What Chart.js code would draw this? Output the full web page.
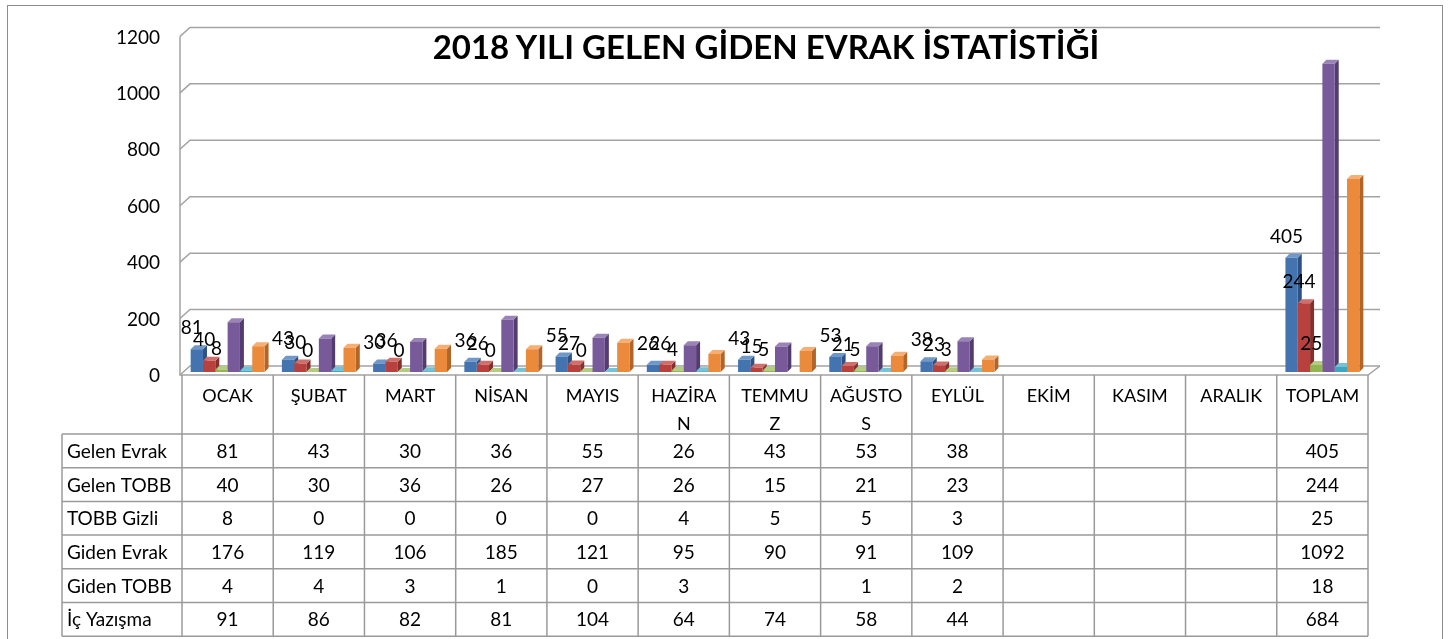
<!DOCTYPE html>
<html>
<head>
<meta charset="utf-8">
<script src="https://cdn.jsdelivr.net/npm/chart.js@4.4.0/dist/chart.umd.min.js"></script>
<style>
    body { margin: 0; background: #fff; }
    #wrap { position: relative; width: 1448px; height: 639px; overflow: hidden; }
    #frame { position: absolute; left: 7px; top: 5px; width: 1434px; height: 700px; border: 1px solid #8c8c8c; }
    #title { position: absolute; left: 0; top: 26px; width: 1532px; text-align: center;
             font: bold 33px Lato, sans-serif; color: #000; line-height: 40px; }
    canvas { position: absolute; left: 0; top: 0; }
</style>
</head>
<body>
<div id="wrap">
    <div id="frame"></div>
    <canvas id="evrakChart" width="1448" height="639"></canvas>
    <div id="title">2018 YILI GELEN GİDEN EVRAK İSTATİSTİĞİ</div>
</div>
<script>
// aylar ve seriler
const months = ['OCAK', 'ŞUBAT', 'MART', 'NİSAN', 'MAYIS', ['HAZİRA', 'N'], ['TEMMU', 'Z'], ['AĞUSTO', 'S'], 'EYLÜL', 'EKİM', 'KASIM', 'ARALIK', 'TOPLAM'];
const seriesNames = ['Gelen Evrak', 'Gelen TOBB', 'TOBB Gizli', 'Giden Evrak', 'Giden TOBB', 'İç Yazışma'];
const gelenEvrak = [81, 43, 30, 36, 55, 26, 43, 53, 38, null, null, null, 405];
const gelenTobb = [40, 30, 36, 26, 27, 26, 15, 21, 23, null, null, null, 244];
const tobbGizli = [8, 0, 0, 0, 0, 4, 5, 5, 3, null, null, null, 25];
const gidenEvrak = [176, 119, 106, 185, 121, 95, 90, 91, 109, null, null, null, 1092];
const gidenTobb = [4, 4, 3, 1, 0, 3, null, 1, 2, null, null, null, 18];
const icYazisma = [91, 86, 82, 81, 104, 64, 74, 58, 44, null, null, null, 684];
const yMax = 1200;
const yStep = 200;

const seriesData = [gelenEvrak, gelenTobb, tobbGizli, gidenEvrak, gidenTobb, icYazisma];
const frontColors = ['#4474B0', '#B8413E', '#93B551', '#785A9A', '#40A5C0', '#EC8A3C'];
const sideColors = ['#2D5283', '#85302D', '#6A8639', '#523D6E', '#2B7A8F', '#B2652A'];
const topColors = ['#6F97C8', '#D06E6B', '#B3CC82', '#9A83B6', '#74C2D6', '#F6AE72'];
const labelSeries = 3; // ilk üç seride değer etiketi var

const FONT = 'Lato';
const gridColor = '#a3a3a3';

// 3D görünüm: arka duvar çizgileri, zemin, çubuk yan yüzleri
const threeD = {
    id: 'threeD',
    beforeDatasetsDraw(chart) {
        const ctx = chart.ctx;
        const { left, right, bottom } = chart.chartArea;
        const y = chart.scales.y;
        ctx.save();
        ctx.strokeStyle = gridColor;
        ctx.lineWidth = 1.5;
        y.ticks.forEach(t => {
            const py = y.getPixelForValue(t.value);
            ctx.beginPath();
            ctx.moveTo(left - 2, py + 3);
            ctx.lineTo(left + 8, py - 6);
            ctx.lineTo(right + 12, py - 6);
            ctx.stroke();
        });
        ctx.beginPath();
        ctx.moveTo(left - 2, y.getPixelForValue(yMax) + 3);
        ctx.lineTo(left - 2, bottom + 3);
        ctx.lineTo(right, bottom + 3);
        ctx.lineTo(right + 12, bottom - 6);
        ctx.stroke();

        chart.data.datasets.forEach((ds, i) => {
            chart.getDatasetMeta(i).data.forEach((bar, j) => {
                if (ds.data[j] == null) return;
                const p = bar.getProps(['x', 'y', 'base', 'width'], true);
                const l = p.x - p.width / 2, r = p.x + p.width / 2, d = 4;
                ctx.fillStyle = sideColors[i];
                ctx.beginPath();
                ctx.moveTo(r, p.y);
                ctx.lineTo(r + d, p.y - d);
                ctx.lineTo(r + d, p.base - d);
                ctx.lineTo(r, p.base);
                ctx.closePath();
                ctx.fill();
                ctx.fillStyle = topColors[i];
                ctx.beginPath();
                ctx.moveTo(l, p.y);
                ctx.lineTo(l + d, p.y - d);
                ctx.lineTo(r + d, p.y - d);
                ctx.lineTo(r, p.y);
                ctx.closePath();
                ctx.fill();
            });
        });
        ctx.restore();
    },
    afterDatasetsDraw(chart) {
        const ctx = chart.ctx;
        ctx.save();
        ctx.fillStyle = '#000';
        ctx.font = '19px ' + FONT;
        ctx.textAlign = 'center';
        ctx.textBaseline = 'middle';
        for (let i = 0; i < labelSeries; i++) {
            chart.getDatasetMeta(i).data.forEach((bar, j) => {
                const v = seriesData[i][j];
                if (v == null) return;
                ctx.fillText(String(v), bar.x - 5, bar.y - 21);
            });
        }
        ctx.restore();
    }
};

// grafiğin altındaki veri tablosu
const dataTable = {
    id: 'dataTable',
    afterDraw(chart) {
        const ctx = chart.ctx;
        const x = chart.scales.x;
        const { left, right, bottom } = chart.chartArea;
        const colW = (right - left) / months.length;
        const headTop = bottom + 3;
        const headBottom = bottom + 62;
        const rowH = 33.7;
        const labelLeft = 62;
        const tableBottom = headBottom + rowH * seriesNames.length;

        ctx.save();
        ctx.strokeStyle = '#9a9a9a';
        ctx.lineWidth = 1.5;
        ctx.beginPath();
        for (let c = 0; c <= months.length; c++) {
            const cx = left + c * colW;
            ctx.moveTo(cx, headTop);
            ctx.lineTo(cx, tableBottom);
        }
        ctx.moveTo(labelLeft, headBottom);
        ctx.lineTo(labelLeft, tableBottom);
        for (let r = 0; r <= seriesNames.length; r++) {
            const ry = headBottom + r * rowH;
            ctx.moveTo(labelLeft, ry);
            ctx.lineTo(right, ry);
        }
        ctx.stroke();

        ctx.fillStyle = '#000';
        ctx.font = '19px ' + FONT;
        ctx.textBaseline = 'middle';
        seriesNames.forEach((name, r) => {
            const cy = headBottom + (r + 0.5) * rowH + 1;
            ctx.textAlign = 'left';
            ctx.fillText(name, labelLeft + 5, cy);
            ctx.textAlign = 'center';
            seriesData[r].forEach((v, j) => {
                if (v == null) return;
                ctx.fillText(String(v), x.getPixelForValue(j), cy);
            });
        });
        ctx.restore();
    }
};

const ctx = document.getElementById('evrakChart').getContext('2d');
const evrakChart = new Chart(ctx, {
    type: 'bar',
    data: {
        labels: months,
        datasets: seriesNames.map((name, i) => ({
            label: name,
            data: seriesData[i],
            backgroundColor: frontColors[i],
            borderWidth: 0,
            barPercentage: 1,
            categoryPercentage: 0.81
        }))
    },
    options: {
        responsive: false,
        animation: false,
        layout: { padding: { left: 0, right: 80, top: 31, bottom: 0 } },
        plugins: {
            legend: { display: false },
            tooltip: { enabled: false }
        },
        scales: {
            x: {
                grid: { display: false, drawTicks: false },
                border: { display: false },
                ticks: {
                    color: '#000',
                    font: { family: FONT, size: 18, lineHeight: 1.55 },
                    padding: 10,
                    autoSkip: false,
                    maxRotation: 0
                },
                afterFit(scale) { scale.height = 267; }
            },
            y: {
                min: 0,
                max: yMax,
                grid: { display: false, drawTicks: false },
                border: { display: false },
                ticks: {
                    stepSize: yStep,
                    color: '#000',
                    font: { family: FONT, size: 19 },
                    padding: 22,
                    labelOffset: 4,
                    callback: v => String(v)
                },
                afterFit(scale) { scale.width = 182; }
            }
        }
    },
    plugins: [threeD, dataTable]
});
</script>
</body>
</html>
